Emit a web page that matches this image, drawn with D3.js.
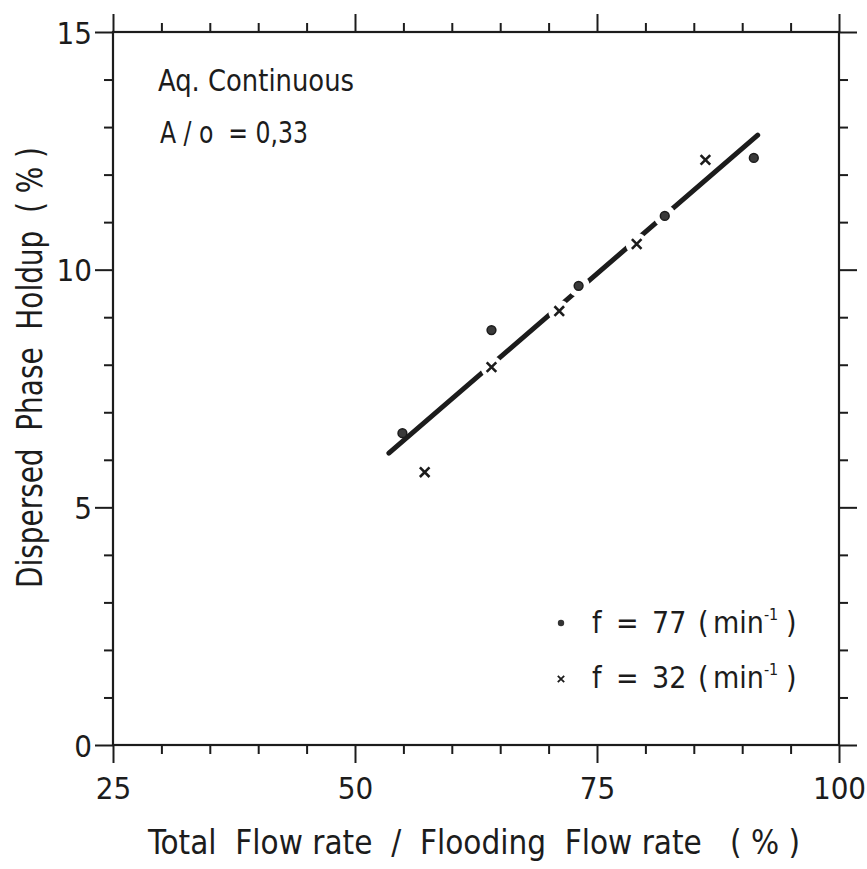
<!DOCTYPE html>
<html>
<head>
<meta charset="utf-8">
<script src="https://cdn.jsdelivr.net/npm/d3@7"></script>
<style>
  body { margin: 0; background: #fff; }
  svg text { font-family: "DejaVu Sans Condensed", "DejaVu Sans", sans-serif; fill: #1c1c1c; white-space: pre; }
</style>
</head>
<body>
<svg id="chart" width="867" height="869"></svg>
<script>
// values
const dotX = [54.9, 64.1, 73.1, 82.0, 91.2];       // f = 77 min-1
const dotY = [6.56, 8.73, 9.66, 11.13, 12.35];
const crossX = [57.2, 64.1, 71.1, 79.1, 86.2];     // f = 32 min-1
const crossY = [5.74, 7.95, 9.13, 10.54, 12.31];
const fitX = [53.5, 91.6];
const fitY = [6.14, 12.83];

const xMajor = [25, 50, 75, 100];
const xMinor = [30, 35, 40, 45, 55, 60, 65, 70, 80, 85, 90, 95];
const yMajor = [0, 5, 10, 15];
const yMinor = [1, 2, 3, 4, 6, 7, 8, 9, 11, 12, 13, 14];

const ink = "#1c1c1c";
const svg = d3.select("#chart");

const x = d3.scaleLinear().domain([25, 100]).range([113, 839]);
const y = d3.scaleLinear().domain([0, 15]).range([745, 32]);

// axes: major ticks long, minor short, all pointing out of the frame
function drawAxis(axisFn, scale, pos, major, minor, pad) {
  const g = svg.append("g").attr("transform", pos);
  g.call(axisFn(scale).tickValues(major).tickSize(18).tickPadding(pad)
    .tickFormat(pad ? d3.format("d") : () => ""));
  g.select(".domain").remove();
  const m = svg.append("g").attr("transform", pos);
  m.call(axisFn(scale).tickValues(minor).tickSize(9).tickFormat(() => ""));
  m.select(".domain").remove();
  svg.selectAll(".tick line").attr("stroke", ink).attr("stroke-width", 2);
  return g;
}

const gx = drawAxis(d3.axisBottom, x, `translate(0,${y(0)})`, xMajor, xMinor, 14);
drawAxis(d3.axisTop, x, `translate(0,${y(15)})`, xMajor, xMinor, 0);
const gy = drawAxis(d3.axisLeft, y, `translate(${x(25)},0)`, yMajor, yMinor, 3);
drawAxis(d3.axisRight, y, `translate(${x(100)},0)`, yMajor, yMinor, 0);

gx.selectAll(".tick text").attr("font-size", 31).attr("dy", "0.72em");
gy.selectAll(".tick text").attr("font-size", 31).attr("dy", "0.36em");
svg.selectAll(".tick text").attr("fill", ink);

svg.append("rect")
  .attr("x", x(25)).attr("y", y(15))
  .attr("width", x(100) - x(25)).attr("height", y(0) - y(15))
  .attr("fill", "none").attr("stroke", ink).attr("stroke-width", 2.2);

// fitted line
const line = d3.line().x(d => x(d[0])).y(d => y(d[1]));
const fitPts = fitX.map((v, i) => [v, fitY[i]]);
svg.append("path")
  .attr("d", line(fitPts))
  .attr("fill", "none").attr("stroke", ink)
  .attr("stroke-width", 5).attr("stroke-linecap", "round");

// markers sitting on the line break it (as in the drawing)
const dots = dotX.map((v, i) => ({ x: v, y: dotY[i] }));
const crosses = crossX.map((v, i) => ({ x: v, y: crossY[i] }));
const x1 = x(fitX[0]), y1 = y(fitY[0]), x2 = x(fitX[1]), y2 = y(fitY[1]);
const segLen = Math.hypot(x2 - x1, y2 - y1);
function distToFit(d) {
  const px = x(d.x), py = y(d.y);
  return Math.abs((x2 - x1) * (y1 - py) - (x1 - px) * (y2 - y1)) / segLen;
}
svg.append("g").selectAll("circle")
  .data(dots.concat(crosses).filter(d => distToFit(d) < 5))
  .join("circle")
  .attr("cx", d => x(d.x)).attr("cy", d => y(d.y))
  .attr("r", 11).attr("fill", "#fff");

svg.append("g").selectAll("circle")
  .data(dots)
  .join("circle")
  .attr("cx", d => x(d.x)).attr("cy", d => y(d.y))
  .attr("r", 4.4).attr("fill", "#3a3a3a").attr("stroke", ink).attr("stroke-width", 1.5);

function crossPath(h) {
  const p = d3.path();
  p.moveTo(-h, -h); p.lineTo(h, h);
  p.moveTo(-h, h); p.lineTo(h, -h);
  return p.toString();
}
svg.append("g").selectAll("path")
  .data(crosses)
  .join("path")
  .attr("transform", d => `translate(${x(d.x)},${y(d.y)})`)
  .attr("d", crossPath(4.8))
  .attr("fill", "none").attr("stroke", ink).attr("stroke-width", 2.6);

// axis titles
svg.append("text")
  .attr("x", 148).attr("y", 854)
  .attr("font-size", 34)
  .attr("textLength", 652).attr("lengthAdjust", "spacingAndGlyphs")
  .text("Total  Flow rate  /  Flooding  Flow rate   ( % )");

svg.append("text")
  .attr("transform", "translate(42,588) rotate(-90)")
  .attr("font-size", 36)
  .attr("textLength", 441).attr("lengthAdjust", "spacingAndGlyphs")
  .text("Dispersed  Phase  Holdup  ( % )");

// notes in the top-left corner
svg.append("text")
  .attr("x", 158).attr("y", 91)
  .attr("font-size", 31)
  .attr("textLength", 196).attr("lengthAdjust", "spacingAndGlyphs")
  .text("Aq. Continuous");
svg.append("text")
  .attr("x", 160).attr("y", 143)
  .attr("font-size", 31)
  .attr("textLength", 148).attr("lengthAdjust", "spacingAndGlyphs")
  .text("A / o  = 0,33");

// legend
const legend = [
  { kind: "dot", value: "77", cy: 623, base: 633 },
  { kind: "cross", value: "32", cy: 679, base: 688 }
];
legend.forEach(l => {
  if (l.kind === "dot") {
    svg.append("circle").attr("cx", 561).attr("cy", l.cy).attr("r", 3.2).attr("fill", "#333");
  } else {
    svg.append("path").attr("transform", `translate(561,${l.cy})`)
      .attr("d", crossPath(3.2))
      .attr("fill", "none").attr("stroke", ink).attr("stroke-width", 1.8);
  }
  const t = svg.append("text").attr("y", l.base).attr("font-size", 30);
  t.append("tspan").attr("x", 592).text("f");
  t.append("tspan").attr("x", 616).text("=");
  t.append("tspan").attr("x", 652).text(l.value);
  t.append("tspan").attr("x", 698).text("(");
  t.append("tspan").attr("x", 713).text("min");
  t.append("tspan").attr("font-size", 16).attr("dy", -13).text("-1");
  t.append("tspan").attr("dy", 13).attr("x", 786).text(")");
});
</script>
</body>
</html>
